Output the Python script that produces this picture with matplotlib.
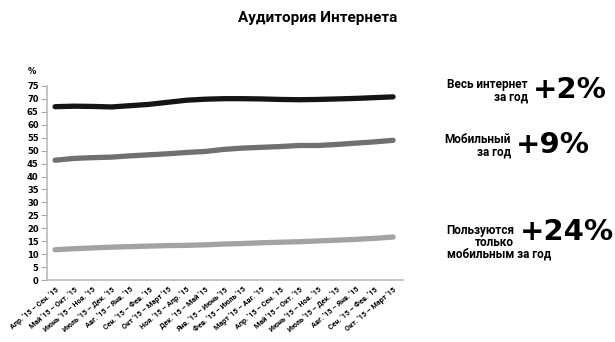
import matplotlib.pyplot as plt
import numpy as np

periods = ["Апр. '15 – Сен. '15", "Май '15 – Окт. '15", "Июнь '15 – Ноя. '15",
           "Июль '15 – Дек. '15", "Авг. '15 – Янв. '15", "Сен. '15 – Фев. '15",
           "Окт '15 – Март '15", "Ноя. '15 – Апр. '15", "Дек. '15 – Май '15",
           "Янв. '15 – Июнь '15", "Фев. '15 – Июль '15", "Март '15 – Авг. '15",
           "Апр. '15 – Сен. '15", "Май '15 – Окт. '15", "Июнь '15 – Ноя. '15",
           "Июль '15 – Дек. '15", "Авг. '15 – Янв. '15", "Сен. '15 – Фев. '15",
           "Окт. '15 – Март '15"]

# % audience
all_internet = [67.0, 67.2, 67.1, 66.9, 67.4, 67.9, 68.7, 69.5, 69.9, 70.1,
                70.1, 70.0, 69.8, 69.7, 69.8, 70.0, 70.2, 70.5, 70.8]
mobile = [46.3, 47.0, 47.3, 47.5, 48.0, 48.4, 48.8, 49.3, 49.7, 50.5,
          51.0, 51.3, 51.6, 52.0, 52.0, 52.4, 52.9, 53.4, 54.0]
mobile_only = [11.7, 12.1, 12.4, 12.7, 12.9, 13.1, 13.3, 13.4, 13.6, 13.9,
               14.1, 14.4, 14.6, 14.8, 15.1, 15.4, 15.7, 16.1, 16.6]

fig = plt.figure(figsize=(6.15, 3.42), dpi=100)
ax = fig.add_axes([47/615, 1-280/342, (403-47)/615, (280-86)/342])

x = np.arange(len(periods))
ax.plot(x, all_internet, color='#151515', lw=3.8, solid_capstyle='round')
ax.plot(x, mobile, color='#707070', lw=3.8, solid_capstyle='round')
ax.plot(x, mobile_only, color='#a3a3a3', lw=3.8, solid_capstyle='round')

ax.set_xlim(-0.43, 18.53)
ax.set_ylim(0, 75)
ax.set_yticks(range(0, 80, 5))
ax.set_xticks(x)
ax.set_xticklabels(periods, rotation=40, ha='right', rotation_mode='anchor',
                   fontsize=5.2, fontweight='bold', family='Roboto')
ax.tick_params(axis='x', length=0, pad=4)
ax.tick_params(axis='y', length=4, width=0.8, color='#aaaaaa', labelsize=6, pad=2)
for lbl in ax.get_yticklabels():
    lbl.set_fontweight('bold')
for s in ['top', 'right']:
    ax.spines[s].set_visible(False)
for s in ['left', 'bottom']:
    ax.spines[s].set_color('#bbbbbb')
    ax.spines[s].set_linewidth(1.2)
fig.text(32/615, 1-72/342, '%', fontsize=6, fontweight='bold', ha='center', va='center')

fig.text(318/615, 1-18/342, 'Аудитория Интернета', fontsize=11, fontweight='bold',
         ha='center', va='center', family='Roboto')

def px(xp, yp):
    return xp/615, 1-yp/342

lab = dict(fontsize=8.5, fontweight='bold', family='Roboto', va='center',
           ha='right', multialignment='right', linespacing=0.95)
big = dict(fontsize=21, fontweight='bold', family='DejaVu Sans', va='center', ha='left')

fig.text(*px(528, 91), 'Весь интернет\nза год', **lab)
fig.text(*px(533, 90), '+2%', **big)

fig.text(*px(511, 145.5), 'Мобильный\nза год', **lab)
fig.text(*px(516, 145), '+9%', **big)

fig.text(*px(514, 236.5), 'Пользуются\nтолько', **lab)
fig.text(*px(499, 254), 'мобильным за год', fontsize=8.5, fontweight='bold',
         family='Roboto', va='center', ha='center')
fig.text(*px(520, 232), '+24%', **big)

fig.savefig('out.png', dpi=100)
